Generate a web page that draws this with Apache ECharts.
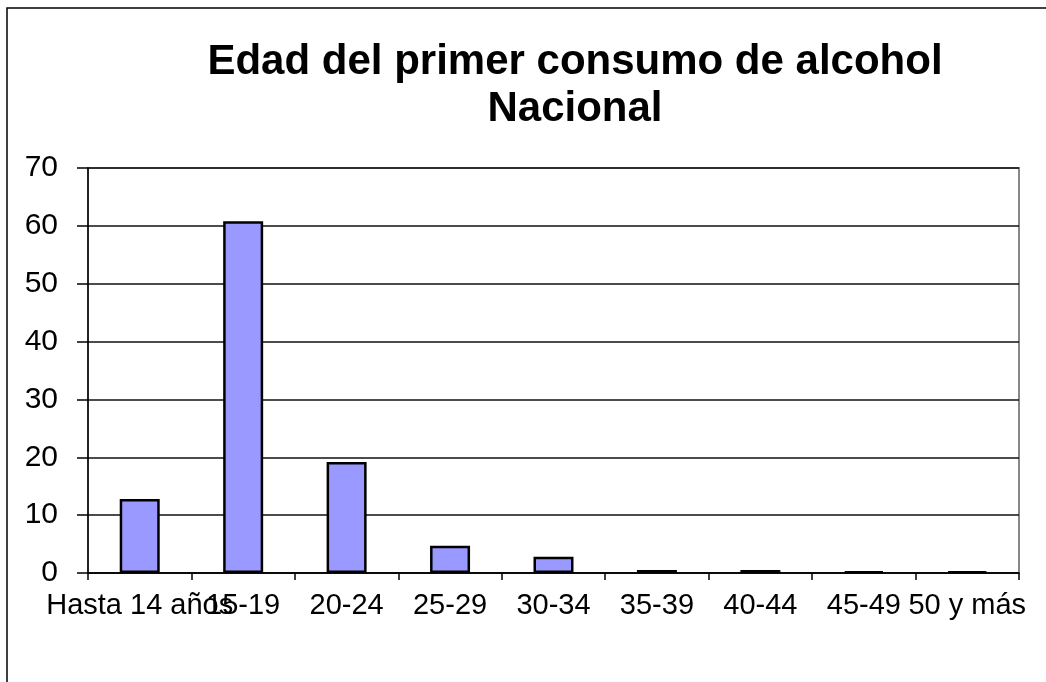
<!DOCTYPE html>
<html>
<head>
<meta charset="utf-8">
<script src="https://cdn.jsdelivr.net/npm/echarts@6/dist/echarts.min.js"></script>
<style>
  html, body { margin: 0; padding: 0; background: #fff; }
  #chart { width: 1046px; height: 682px; }
</style>
</head>
<body>
<div id="chart"></div>
<script>
"use strict";

var TITLE_LINES = ['Edad del primer consumo de alcohol', 'Nacional'];
var AGE_GROUPS = ['Hasta 14 años', '15-19', '20-24', '25-29', '30-34', '35-39', '40-44', '45-49', '50 y más'];
var PERCENTS = [12.8, 60.8, 19.2, 4.7, 2.8, 0.5, 0.5, 0.3, 0.3];

var chart = echarts.init(document.getElementById('chart'));

chart.setOption({
	animation: false,
	backgroundColor: '#ffffff',
	textStyle: {
		fontFamily: '"Liberation Sans", Arial, sans-serif'
	},
	title: {
		text: TITLE_LINES.join('\n'),
		left: 570,
		top: 34,
		textAlign: 'center',
		textStyle: {
			fontSize: 42,
			fontWeight: 'bold',
			color: '#000',
			lineHeight: 47,
			fontFamily: '"Liberation Sans", Arial, sans-serif'
		}
	},
	graphic: [{
		type: 'rect',
		shape: { x: 7, y: 8, width: 1100, height: 700 },
		style: { fill: 'none', stroke: '#000', lineWidth: 1.5 },
		silent: true
	}],
	grid: {
		left: 88,
		right: 27,
		top: 168,
		bottom: 109,
		show: true,
		borderColor: '#888',
		borderWidth: 2,
		backgroundColor: 'transparent'
	},
	xAxis: {
		type: 'category',
		data: AGE_GROUPS,
		axisLine: { lineStyle: { color: '#000', width: 1.5 } },
		axisTick: { show: true, length: 7, alignWithLabel: false, lineStyle: { color: '#000', width: 1.5 } },
		axisLabel: { interval: 0, color: '#000', fontSize: 29, margin: 18, hideOverlap: false }
	},
	yAxis: {
		type: 'value',
		min: 0,
		max: 70,
		interval: 10,
		axisLine: { show: true, lineStyle: { color: '#000', width: 1.5 } },
		axisTick: { show: true, length: 11, lineStyle: { color: '#000', width: 1.5 } },
		axisLabel: { color: '#000', fontSize: 30, margin: 30 },
		splitLine: { lineStyle: { color: '#111', width: 1.5 } }
	},
	series: [{
		type: 'bar',
		data: PERCENTS,
		barWidth: 40,
		itemStyle: {
			color: '#9999ff',
			borderColor: '#000',
			borderWidth: 2.5
		}
	}]
});
</script>
</body>
</html>
